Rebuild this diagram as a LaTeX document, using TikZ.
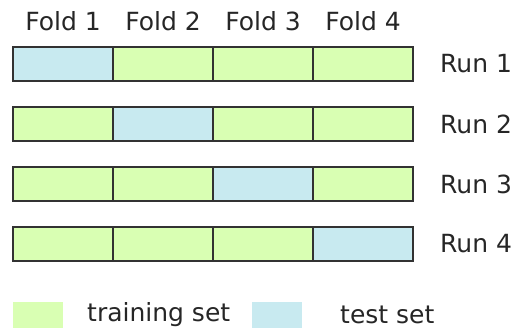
\documentclass[tikz,border=0pt]{standalone}
\usepackage{fontspec}
\setmainfont{DejaVu Sans}
\definecolor{trainclr}{RGB}{217,255,179}
\definecolor{testclr}{RGB}{200,234,240}
\definecolor{edgeclr}{RGB}{50,50,50}
\begin{document}
\begin{tikzpicture}[x=1pt, y=-1pt,
        train/.style = {draw = edgeclr, line width = 1.4pt, fill = trainclr, minimum width = 100pt, minimum height = 34pt, inner sep = 0pt},
        test/.style = {train, fill = testclr},
        lbl/.style = {font = \fontsize{25}{28}\selectfont, text = black!85, inner sep = 0pt}]
    \useasboundingbox (0, 0) rectangle (520, 330);
    \draw
        (63, 21) node (f1) [lbl] {Fold 1}
        (163, 21) node (f2) [lbl] {Fold 2}
        (263, 21) node (f3) [lbl] {Fold 3}
        (363, 21) node (f4) [lbl] {Fold 4}

        (63, 64) node (c11) [test] {}
        (163, 64) node (c12) [train] {}
        (263, 64) node (c13) [train] {}
        (363, 64) node (c14) [train] {}

        (63, 124) node (c21) [train] {}
        (163, 124) node (c22) [test] {}
        (263, 124) node (c23) [train] {}
        (363, 124) node (c24) [train] {}

        (63, 184) node (c31) [train] {}
        (163, 184) node (c32) [train] {}
        (263, 184) node (c33) [test] {}
        (363, 184) node (c34) [train] {}

        (63, 244) node (c41) [train] {}
        (163, 244) node (c42) [train] {}
        (263, 244) node (c43) [train] {}
        (363, 244) node (c44) [test] {}

        (440, 64) node (r1) [lbl, anchor = west] {Run 1}
        (440, 124) node (r2) [lbl, anchor = west] {Run 2}
        (440, 184) node (r3) [lbl, anchor = west] {Run 3}
        (440, 244) node (r4) [lbl, anchor = west] {Run 4}

        (38, 315) node (ktrain) [fill = trainclr, minimum width = 50pt, minimum height = 26pt] {}
        (87, 315) node (ttrain) [lbl, anchor = west] {training set}
        (277, 315) node (ktest) [fill = testclr, minimum width = 50pt, minimum height = 26pt] {}
        (340, 315) node (ttest) [lbl, anchor = west] {test set}
    ;
\end{tikzpicture}
\end{document}
